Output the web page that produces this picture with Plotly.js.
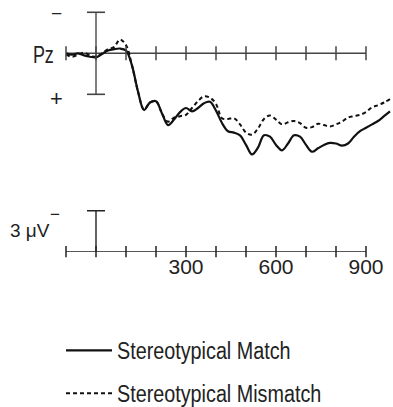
<!DOCTYPE html>
<html>
<head>
<meta charset="utf-8">
<script src="https://cdn.plot.ly/plotly-3.0.1.min.js"></script>
<style>
  html, body { margin: 0; padding: 0; background: #fff; }
  #chart { width: 393px; height: 407px; }
  /* condensed lettering for the legend and the electrode label */
  #chart .legendtext {
    transform-box: fill-box;
    transform-origin: 0% 50%;
    transform: scaleX(0.86);
  }
  #chart .annotation[data-index="0"] text {
    transform-box: fill-box;
    transform-origin: 100% 50%;
    transform: scaleX(0.78);
  }
</style>
</head>
<body>
<div id="chart"></div>
<script>
// Grand-average ERP at Pz, negative plotted up (ms, microvolts)
const timeMs = [-100, -80, -60, -40, -20, 0, 20, 40, 60, 80, 100, 120, 140, 160, 180, 200, 220, 240, 260, 280,
  300, 320, 340, 360, 380, 400, 420, 440, 460, 480, 500, 520, 540, 560, 580, 600, 620, 640, 660, 680,
  700, 720, 740, 760, 780, 800, 820, 840, 860, 880, 900, 920, 940, 960, 980];

const stereoMatch = [0.0, 0.1, 0.0, 0.15, 0.25, 0.3, 0.05, -0.2, -0.3, -0.35, -0.2, 0.9, 2.8, 4.15, 3.6, 3.5, 4.4, 5.25, 4.85, 4.3,
  4.0, 4.25, 4.0, 3.65, 3.55, 4.2, 5.1, 5.7, 5.8, 6.0, 6.7, 7.4, 6.9, 6.0, 6.1, 6.7, 7.1, 6.6, 6.0, 6.1,
  6.7, 7.2, 6.95, 6.7, 6.55, 6.6, 6.75, 6.6, 6.1, 5.7, 5.45, 5.2, 4.95, 4.6, 4.25];

const stereoMismatch = [0.1, 0.25, 0.1, -0.05, 0.15, 0.25, 0.0, -0.3, -0.45, -1.0, -0.6, 0.9, 2.8, 4.1, 3.6, 3.5, 4.4, 5.0, 4.7, 4.6,
  4.5, 4.0, 3.5, 3.15, 3.25, 3.7, 4.75, 4.8, 4.75, 5.2, 5.8, 5.95, 5.5, 4.8, 4.55, 4.85, 5.2, 5.05, 4.95, 5.1,
  5.45, 5.4, 5.15, 5.25, 5.35, 5.2, 5.0, 4.7, 4.6, 4.5, 4.3, 3.95, 3.8, 3.6, 3.35];

// Time axis ticks and labels
const tickTimes = [-100, 0, 100, 200, 300, 400, 500, 600, 700, 800, 900];
const labelTimes = [300, 600, 900];
const labelText = ['300', '600', '900'];

// Calibration: 3 microvolt bar
const calibUv = 3;
const seriesNames = ['Stereotypical Match', 'Stereotypical Mismatch'];

const sans = '"Liberation Sans", Arial, sans-serif';
const axisColor = '#444';

const traces = [
  {
    x: timeMs, y: stereoMatch, name: seriesNames[0], type: 'scatter', mode: 'lines',
    line: { color: '#111', width: 2.2, shape: 'spline', smoothing: 1 },
    xaxis: 'x', yaxis: 'y', legendgroup: 'a', cliponaxis: false
  },
  {
    x: timeMs, y: stereoMismatch, name: seriesNames[1], type: 'scatter', mode: 'lines',
    line: { color: '#111', width: 2, dash: '4px,3px', shape: 'spline', smoothing: 1 },
    xaxis: 'x', yaxis: 'y', legendgroup: 'b', cliponaxis: false
  },
  {
    // tick marks crossing the Pz time axis
    x: tickTimes, y: tickTimes.map(() => 0), type: 'scatter', mode: 'markers',
    marker: { symbol: 'line-ns', size: 10, line: { color: axisColor, width: 1.5 } },
    xaxis: 'x', yaxis: 'y', showlegend: false, hoverinfo: 'skip', cliponaxis: false
  },
  {
    // tick marks crossing the calibration time axis
    x: tickTimes, y: tickTimes.map(() => 0), type: 'scatter', mode: 'markers',
    marker: { symbol: 'line-ns', size: 8, line: { color: '#222', width: 1.5 } },
    xaxis: 'x2', yaxis: 'y2', showlegend: false, hoverinfo: 'skip', cliponaxis: false
  }
];

const H = 407;
const px = p => 1 - p / H;  // pixel row -> paper fraction
const xRange = [-100, 990];

const shapes = [
  // Pz time axis
  { type: 'line', xref: 'x', yref: 'y', x0: tickTimes[0], x1: tickTimes[tickTimes.length - 1], y0: 0, y1: 0,
    line: { color: axisColor, width: 1.6 }, layer: 'below' },
  // amplitude bar at stimulus onset (+/- 3 uV)
  { type: 'line', xref: 'x', yref: 'y', x0: 0, x1: 0, y0: -calibUv, y1: calibUv,
    line: { color: '#555', width: 1.5 }, layer: 'below' },
  { type: 'line', xref: 'x', yref: 'y', x0: -30, x1: 30, y0: -calibUv, y1: -calibUv,
    line: { color: '#444', width: 1.6 }, layer: 'below' },
  { type: 'line', xref: 'x', yref: 'y', x0: -30, x1: 30, y0: calibUv, y1: calibUv,
    line: { color: '#444', width: 1.6 }, layer: 'below' },
  // calibration time axis
  { type: 'line', xref: 'x2', yref: 'y2', x0: tickTimes[0], x1: tickTimes[tickTimes.length - 1], y0: 0, y1: 0,
    line: { color: '#222', width: 1.6 }, layer: 'below' },
  { type: 'line', xref: 'x2', yref: 'y2', x0: 0, x1: 0, y0: 0, y1: -calibUv,
    line: { color: '#222', width: 1.4 }, layer: 'below' },
  { type: 'line', xref: 'x2', yref: 'y2', x0: -30, x1: 30, y0: -calibUv, y1: -calibUv,
    line: { color: '#222', width: 1.5 }, layer: 'below' }
];

const L = 66, W = 327;
const pxX = p => (p - L) / W;

const annotations = [
  { text: 'Pz', xref: 'paper', yref: 'paper', x: pxX(56), y: px(55), xanchor: 'right', yanchor: 'middle',
    showarrow: false, font: { family: sans, size: 23, color: '#222' } },
  { text: '\u2212', xref: 'paper', yref: 'paper', x: pxX(56), y: px(14), xanchor: 'center', yanchor: 'middle',
    showarrow: false, font: { family: sans, size: 19, color: '#222' } },
  { text: '+', xref: 'paper', yref: 'paper', x: pxX(56), y: px(99), xanchor: 'center', yanchor: 'middle',
    showarrow: false, font: { family: sans, size: 22, color: '#222' } },
  { text: calibUv + ' \u03BCV', xref: 'paper', yref: 'paper', x: pxX(8), y: px(230), xanchor: 'left', yanchor: 'middle',
    showarrow: false, font: { family: sans, size: 19, color: '#222' } },
  { text: '\u2212', xref: 'paper', yref: 'paper', x: pxX(55), y: px(214), xanchor: 'center', yanchor: 'middle',
    showarrow: false, font: { family: sans, size: 17, color: '#222' } }
];

const layout = {
  width: 393, height: 407,
  margin: { l: L, r: 0, t: 0, b: 0, autoexpand: false },
  paper_bgcolor: '#fff', plot_bgcolor: '#fff',
  showlegend: true,
  legend: {
    x: pxX(61), xanchor: 'left', y: px(415), yanchor: 'bottom',
    font: { family: sans, size: 23, color: '#222' },
    traceorder: 'grouped', tracegroupgap: 10, itemwidth: 46,
    bgcolor: 'rgba(0,0,0,0)', borderwidth: 0
  },
  xaxis: { domain: [0, 1], range: xRange, visible: false, anchor: 'y' },
  yaxis: { domain: [px(180), 1], range: [(180 - 53.3) / 13.67, -53.3 / 13.67], visible: false, anchor: 'x' },
  xaxis2: {
    domain: [0, 1], range: xRange, anchor: 'y2',
    showline: false, showgrid: false, zeroline: false,
    tickmode: 'array', tickvals: labelTimes, ticktext: labelText,
    ticks: '',
    tickfont: { family: sans, size: 21, color: '#222' }
  },
  yaxis2: { domain: [px(251.7), px(195)], range: [0, (195 - 251.7) / 13.67], visible: false, anchor: 'x2' },
  shapes: shapes,
  annotations: annotations
};

Plotly.newPlot('chart', traces, layout, { displayModeBar: false, staticPlot: true });
</script>
</body>
</html>
